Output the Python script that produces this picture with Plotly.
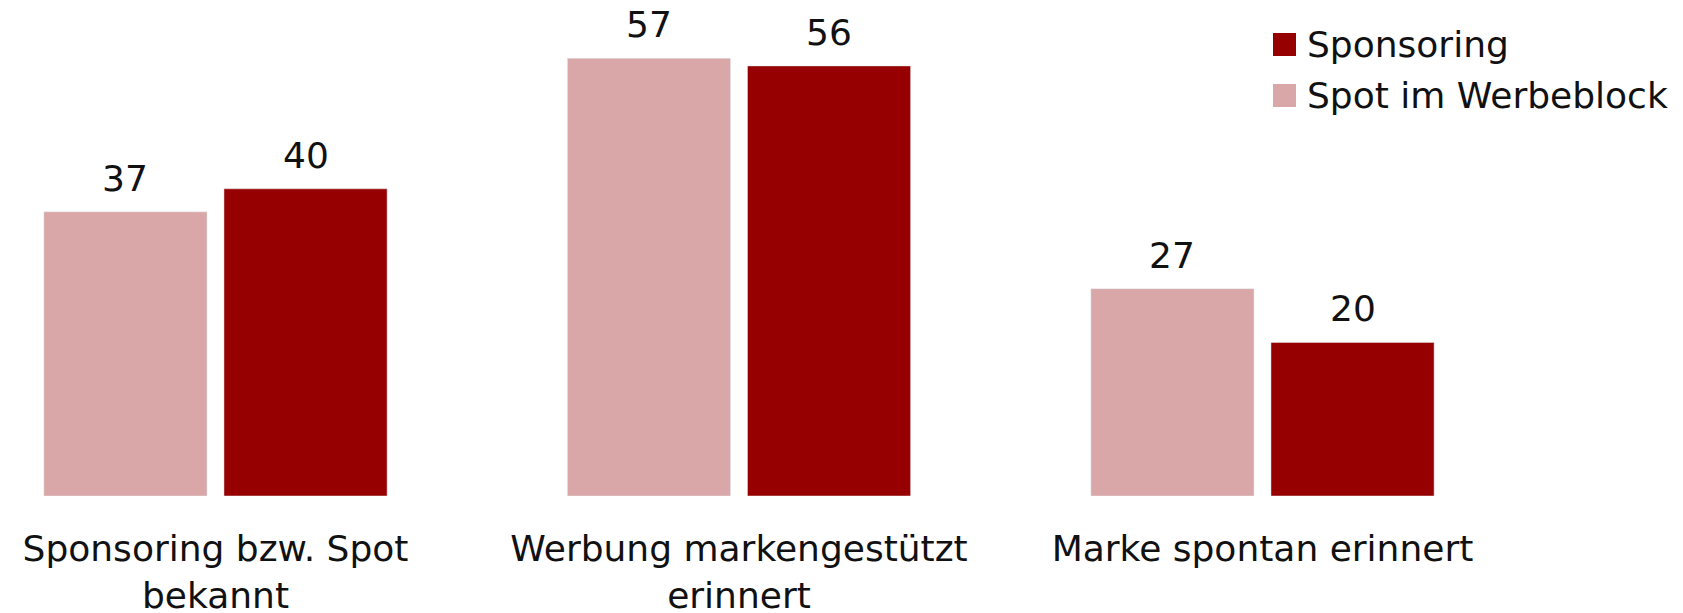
import plotly.graph_objects as go

categories = ["Sponsoring bzw. Spot<br>bekannt", "Werbung markengestützt<br>erinnert", "Marke spontan erinnert"]
spot_values = [37, 57, 27]
sponsoring_values = [40, 56, 20]
series_names = ["Sponsoring", "Spot im Werbeblock"]

PINK = "#D9A7A7"
RED = "#960000"
FONT = "DejaVu Sans"
FS = 36

W, H = 1683, 613
MB = 117
PLOT_H = H - MB
BARGAP = 0.312
GROUPGAP = 0.094

fig = go.Figure()
fig.add_trace(go.Bar(x=categories, y=spot_values, name=series_names[1],
                     marker_color=PINK, showlegend=False, hoverinfo="x+y"))
fig.add_trace(go.Bar(x=categories, y=sponsoring_values, name=series_names[0],
                     marker_color=RED, showlegend=False, hoverinfo="x+y"))

# value labels
cat_px = 523.5
slot_px = cat_px * (1 - BARGAP) / 2
for vals, sign in ((spot_values, -1), (sponsoring_values, 1)):
    for c, v in zip(categories, vals):
        fig.add_annotation(x=c, y=v, xref="x", yref="y", text=str(v), showarrow=False,
                           xshift=sign * slot_px / 2, yshift=11, yanchor="bottom",
                           font=dict(family=FONT, size=FS, color="#111111"))

# legend (custom, large squares)
legend_rows = [(series_names[0], RED, 44.5), (series_names[1], PINK, 95.5)]
for name, col, yc in legend_rows:
    fig.add_shape(type="rect", xref="paper", yref="paper", xsizemode="pixel", ysizemode="pixel",
                  xanchor=0, yanchor=1, x0=1273, x1=1296, y0=-(yc - 11.5), y1=-(yc + 11.5),
                  fillcolor=col, line_width=0)
    fig.add_annotation(xref="paper", yref="paper", x=0, y=1, xshift=1305, yshift=-yc,
                       xanchor="left", yanchor="middle", text=name, showarrow=False,
                       font=dict(family=FONT, size=FS, color="#111111"))

left_units = 215.5 / cat_px
fig.update_layout(
    width=W, height=H,
    margin=dict(l=0, r=0, t=0, b=MB, pad=0, autoexpand=False),
    paper_bgcolor="white", plot_bgcolor="white",
    barmode="group", bargap=BARGAP, bargroupgap=GROUPGAP,
    font=dict(family=FONT, size=FS, color="#111111"),
    xaxis=dict(range=[-left_units, (W - 215.5) / cat_px], showgrid=False, zeroline=False,
               showline=False, ticks="", ticklabelstandoff=28, automargin=False,
               tickfont=dict(family=FONT, size=FS, color="#111111")),
    yaxis=dict(range=[0, PLOT_H / 7.68], visible=False, automargin=False),
    showlegend=False,
)

fig.write_html("out.html", config={"displayModeBar": False},
               post_script="document.body.style.margin='0';document.body.style.overflow='hidden';")
